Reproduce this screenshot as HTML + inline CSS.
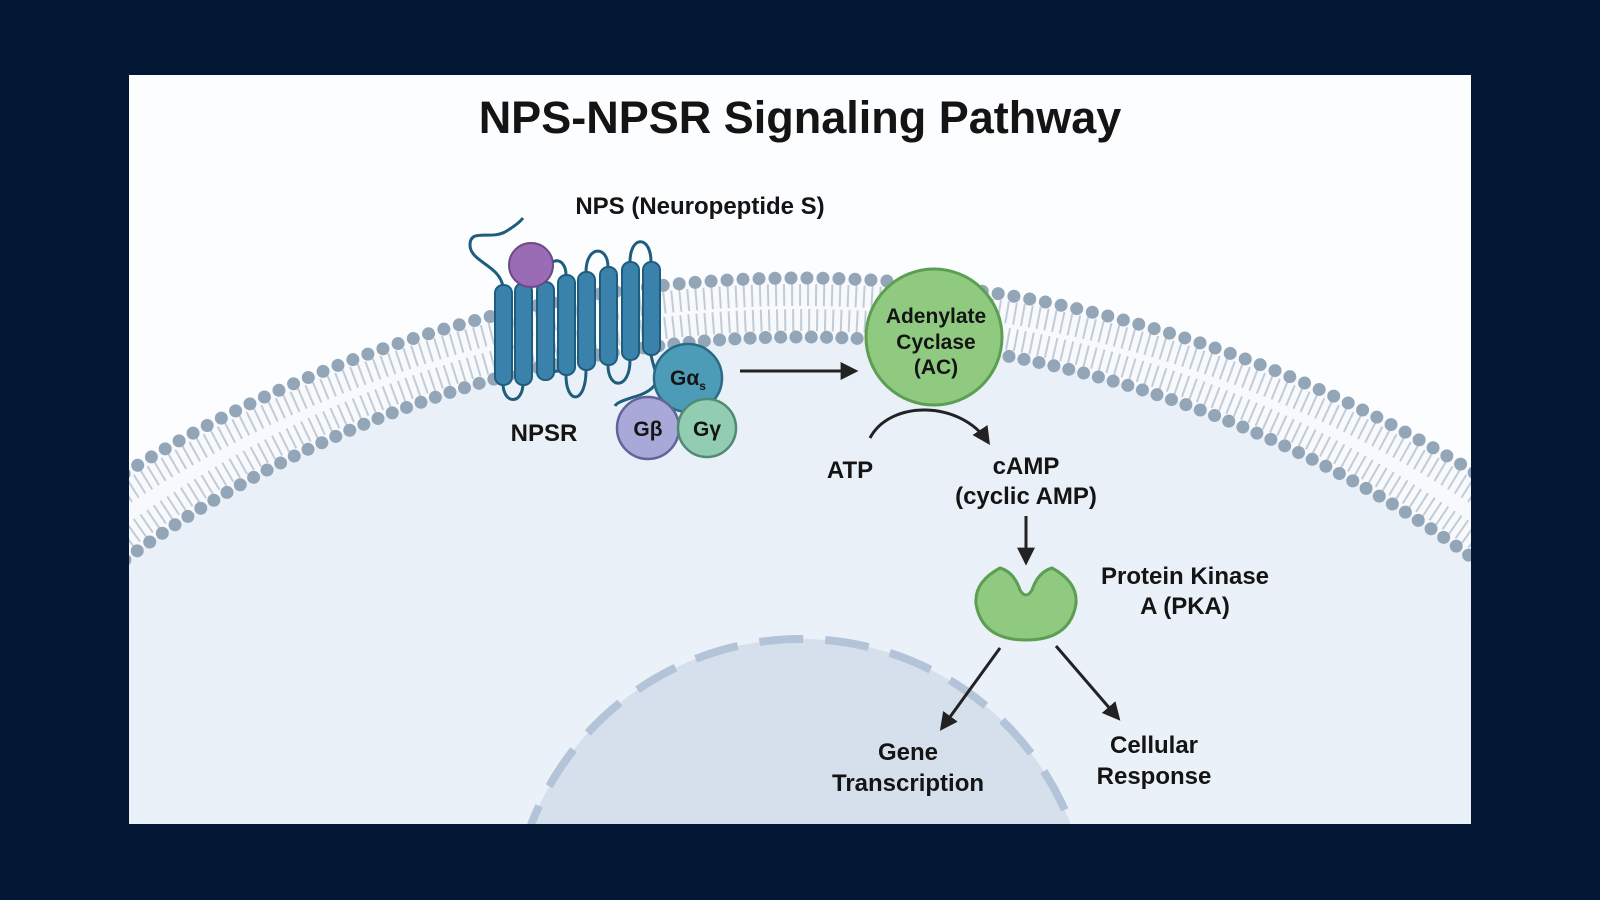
<!DOCTYPE html>
<html><head><meta charset="utf-8"><style>
html,body{margin:0;padding:0;background:#031633;width:1600px;height:900px;overflow:hidden;}
svg{display:block}
text{font-family:"Liberation Sans",Arial,sans-serif;font-weight:bold;fill:#141414;}
</style></head><body>
<svg width="1600" height="900" viewBox="0 0 1600 900" xmlns="http://www.w3.org/2000/svg">
<defs>
<clipPath id="pc"><rect x="129" y="75" width="1342" height="749"/></clipPath>
<marker id="ah" viewBox="0 0 10 10" refX="8" refY="5" markerWidth="6" markerHeight="6" orient="auto"><path d="M0,0 L10,5 L0,10 Z" fill="#222"/></marker>
<linearGradient id="cell" x1="0" y1="0" x2="0" y2="1"><stop offset="0" stop-color="#e9f0f7"/><stop offset="1" stop-color="#f2f6fb"/></linearGradient>
</defs>
<rect x="0" y="0" width="1600" height="900" fill="#031633"/>
<rect x="129" y="75" width="1342" height="749" fill="#fcfdfe"/>
<g clip-path="url(#pc)">
  <circle cx="800" cy="1543" r="1265" fill="#f7f9fc"/>
  <circle cx="800" cy="1471" r="1134" fill="url(#cell)"/>
  <!-- tails -->
  <circle cx="800" cy="1543" r="1248" fill="none" stroke="#c2ccd6" stroke-width="22" stroke-dasharray="2 6"/>
  <circle cx="800" cy="1471" r="1151" fill="none" stroke="#c2ccd6" stroke-width="22" stroke-dasharray="2 6"/>
  <!-- heads -->
  <circle cx="800" cy="1543" r="1265" fill="none" stroke="#93a6b8" stroke-width="13" stroke-dasharray="0 16" stroke-linecap="round"/>
  <circle cx="800" cy="1471" r="1134" fill="none" stroke="#93a6b8" stroke-width="13" stroke-dasharray="0 15.3" stroke-linecap="round"/>
  <!-- nucleus -->
  <circle cx="801" cy="928" r="289" fill="#d5e0ec" stroke="#b3c4d8" stroke-width="8" stroke-dasharray="44 22"/>
</g>
<text x="800" y="133" font-size="45" text-anchor="middle" fill="#111">NPS-NPSR Signaling Pathway</text>
<text x="700" y="214" font-size="24" text-anchor="middle">NPS (Neuropeptide S)</text>
<!-- receptor loops -->
<g fill="none" stroke="#1f5d7e" stroke-width="3">
  <path d="M503,287 C500,265 470,262 470,245 C470,228 490,240 505,232 C515,226 520,222 523,218"/>
  <path d="M503,383 C503,405 523,405 523,383"/>
  <path d="M545,380 Q556,365 566,375"/>
  <path d="M545,282 C545,255 566,255 566,275"/>
  <path d="M566,375 C566,405 586,405 586,370"/>
  <path d="M586,272 C586,245 608,245 608,267"/>
  <path d="M608,365 C608,390 630,390 630,360"/>
  <path d="M630,262 C630,235 651,235 651,262"/>
  <path d="M651,355 C655,375 665,385 640,395 C625,400 617,402 615,406"/>
</g>
<g fill="#3a82ab" stroke="#1f5d7e" stroke-width="2">
  <rect x="495" y="285" width="17" height="100" rx="8"/>
  <rect x="515" y="283" width="17" height="102" rx="8"/>
  <rect x="537" y="282" width="17" height="98" rx="8"/>
  <rect x="558" y="275" width="17" height="100" rx="8"/>
  <rect x="578" y="272" width="17" height="98" rx="8"/>
  <rect x="600" y="267" width="17" height="98" rx="8"/>
  <rect x="622" y="262" width="17" height="98" rx="8"/>
  <rect x="643" y="262" width="17" height="93" rx="8"/>
</g>
<circle cx="531" cy="265" r="22" fill="#9a6cb5" stroke="#6c4a86" stroke-width="2"/>
<!-- G proteins -->
<circle cx="688" cy="378" r="34" fill="#4d9cb7" stroke="#2b6a85" stroke-width="2.5"/>
<circle cx="648" cy="428" r="31" fill="#a9a9d9" stroke="#63639a" stroke-width="2.5"/>
<circle cx="707" cy="428" r="29" fill="#92cdb3" stroke="#4f8a72" stroke-width="2.5"/>
<text x="688" y="385" font-size="21" text-anchor="middle">Gα<tspan font-size="12" dy="5">s</tspan></text>
<text x="648" y="436" font-size="21" text-anchor="middle">Gβ</text>
<text x="707" y="436" font-size="21" text-anchor="middle">Gγ</text>
<text x="544" y="441" font-size="24" text-anchor="middle">NPSR</text>
<!-- arrow to AC -->
<line x1="740" y1="371" x2="855" y2="371" stroke="#222" stroke-width="3" marker-end="url(#ah)"/>
<circle cx="934" cy="337" r="68" fill="#8fca80" stroke="#5c9e52" stroke-width="3"/>
<text x="936" y="323" font-size="21" text-anchor="middle">Adenylate</text>
<text x="936" y="349" font-size="21" text-anchor="middle">Cyclase</text>
<text x="936" y="374" font-size="21" text-anchor="middle">(AC)</text>
<!-- ATP -> cAMP -->
<path d="M870,438 C890,400 960,400 988,442" fill="none" stroke="#222" stroke-width="3" marker-end="url(#ah)"/>
<text x="850" y="478" font-size="24" text-anchor="middle">ATP</text>
<text x="1026" y="474" font-size="24" text-anchor="middle">cAMP</text>
<text x="1026" y="504" font-size="24" text-anchor="middle">(cyclic AMP)</text>
<line x1="1026" y1="516" x2="1026" y2="562" stroke="#222" stroke-width="3" marker-end="url(#ah)"/>
<!-- PKA -->
<path d="M1000,568 Q1014,572 1020,590 Q1026,600 1032,590 Q1038,572 1052,568 Q1078,582 1076,604 Q1070,640 1026,640 Q982,640 976,604 Q974,582 1000,568 Z" fill="#8fca80" stroke="#5c9e52" stroke-width="3"/>
<text x="1185" y="584" font-size="24" text-anchor="middle">Protein Kinase</text>
<text x="1185" y="614" font-size="24" text-anchor="middle">A (PKA)</text>
<line x1="1000" y1="648" x2="942" y2="728" stroke="#222" stroke-width="3" marker-end="url(#ah)"/>
<line x1="1056" y1="646" x2="1118" y2="718" stroke="#222" stroke-width="3" marker-end="url(#ah)"/>
<text x="908" y="760" font-size="24" text-anchor="middle">Gene</text>
<text x="908" y="791" font-size="24" text-anchor="middle">Transcription</text>
<text x="1154" y="753" font-size="24" text-anchor="middle">Cellular</text>
<text x="1154" y="784" font-size="24" text-anchor="middle">Response</text>
</svg>
</body></html>
